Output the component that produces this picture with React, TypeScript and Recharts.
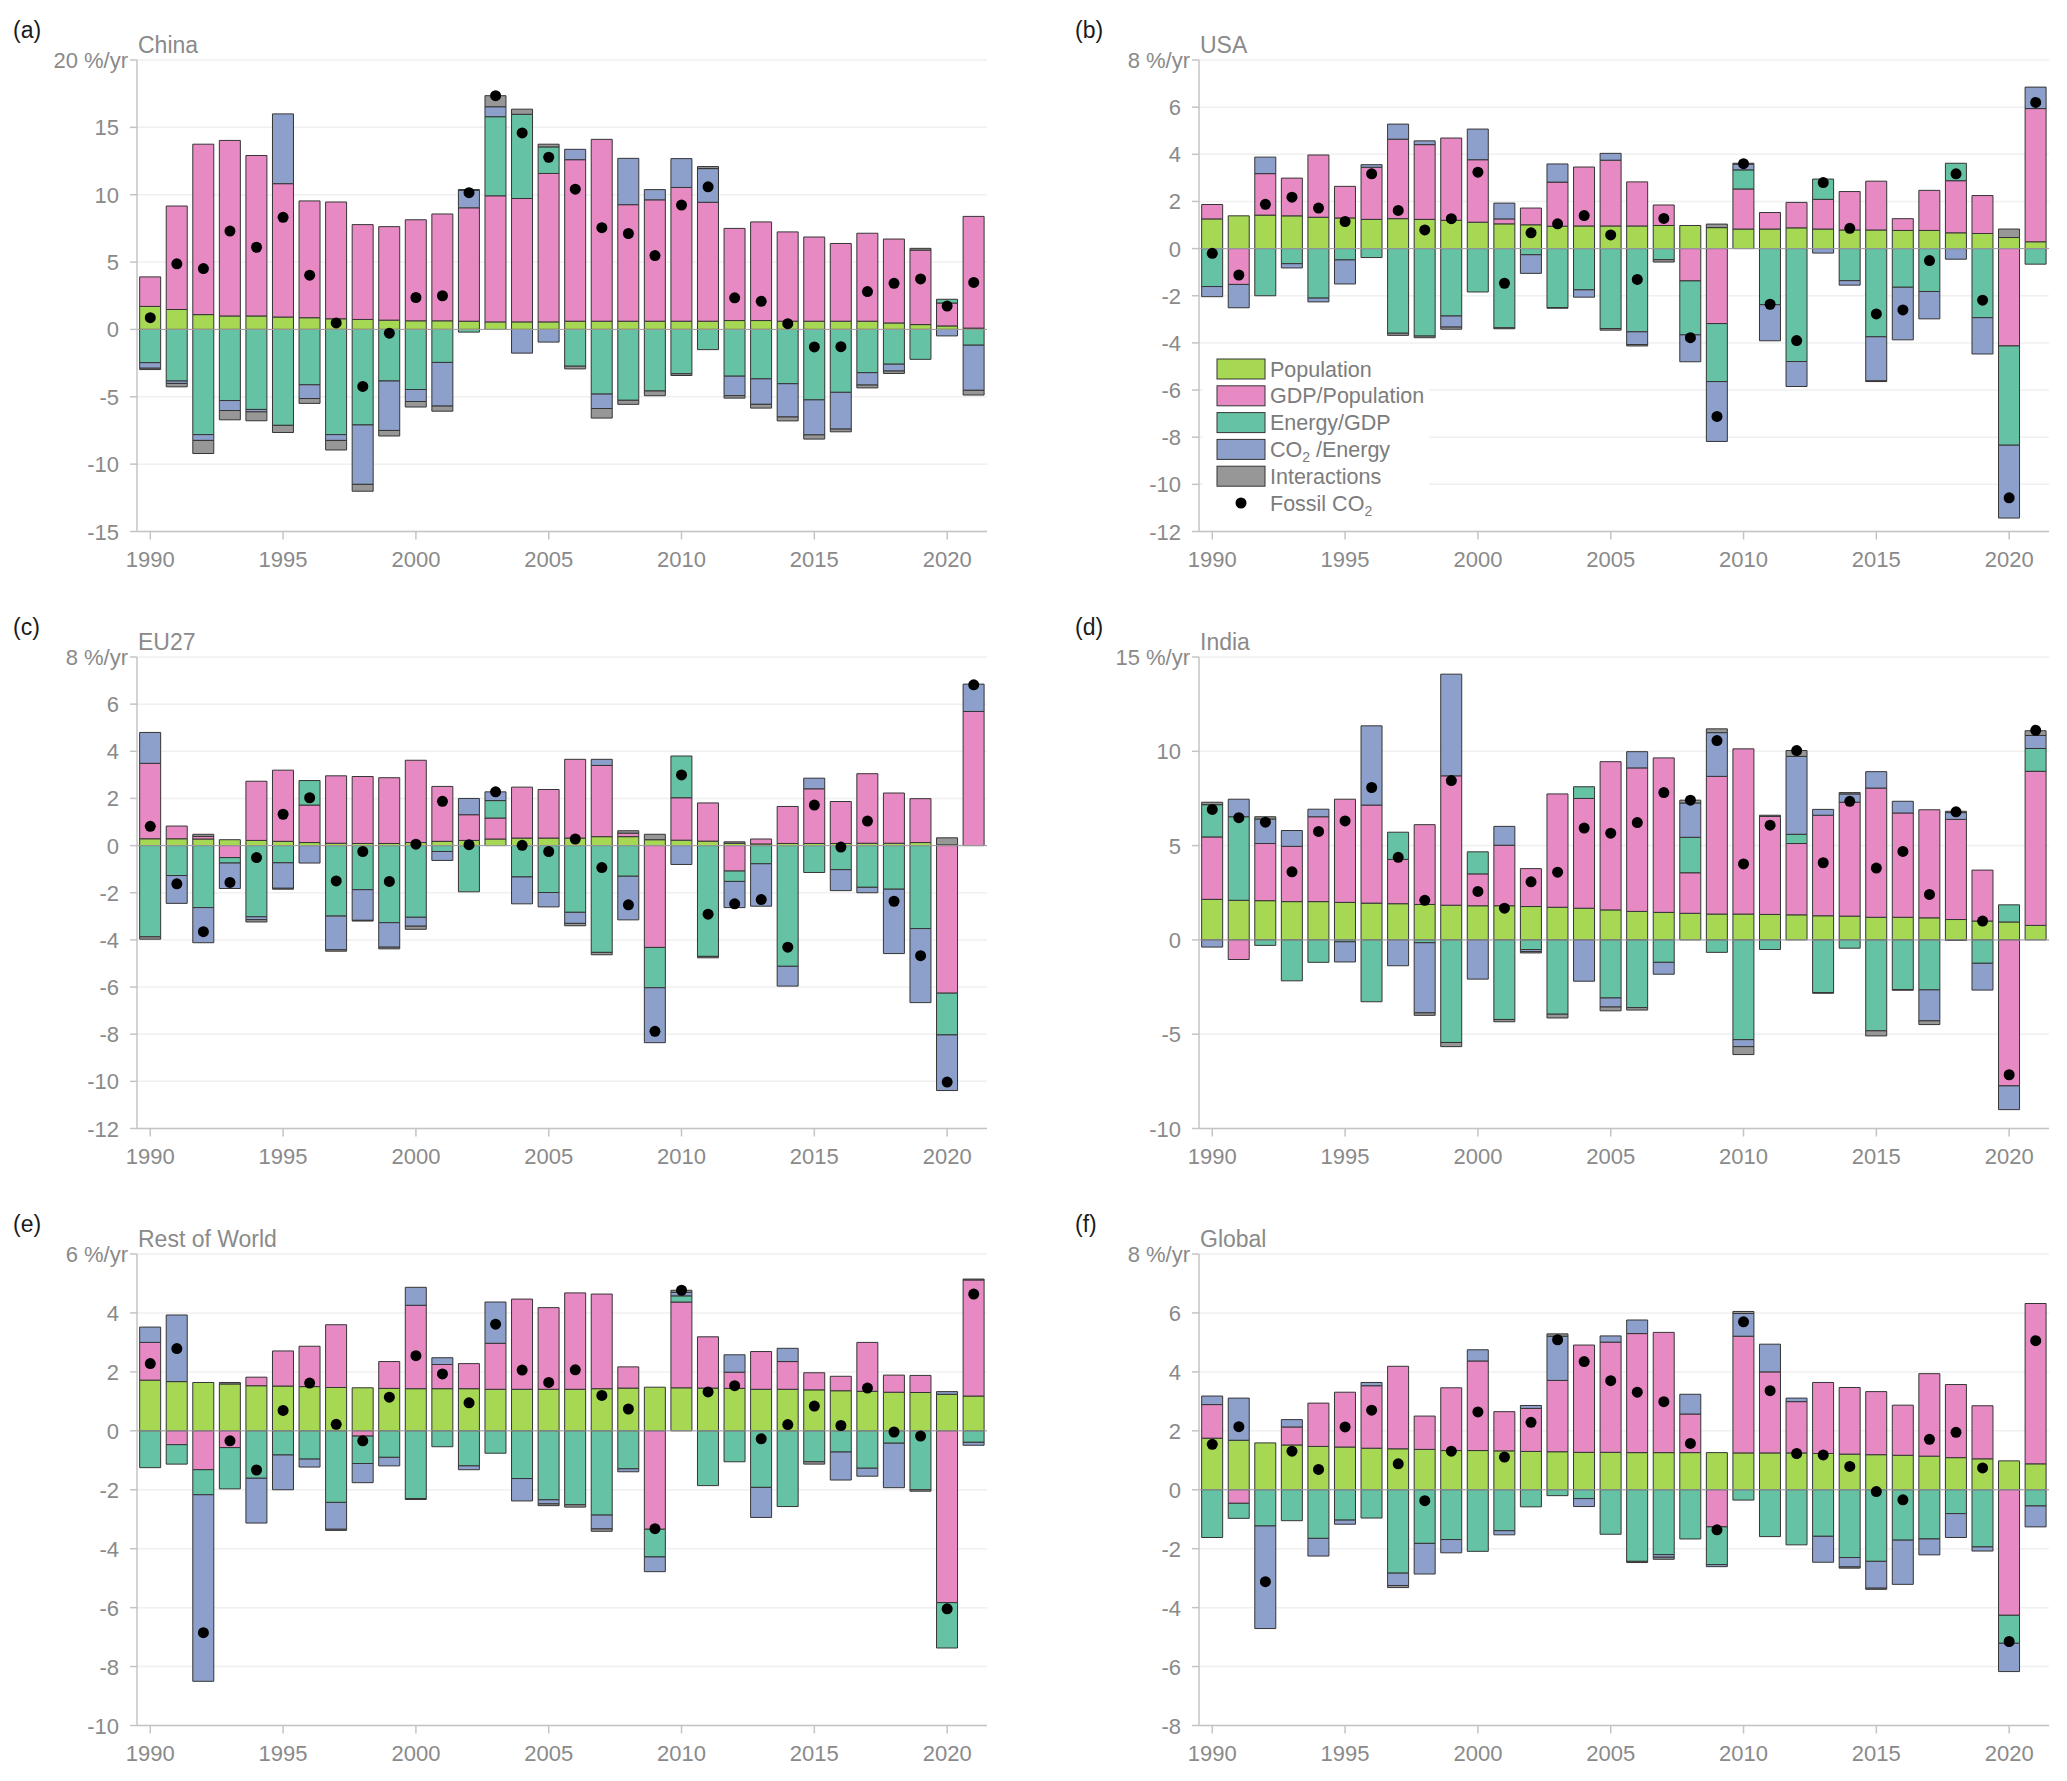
import { ComposedChart, Bar, Line, XAxis, YAxis, CartesianGrid, ReferenceLine } from 'recharts';

const years = [
  1990, 1991, 1992, 1993, 1994, 1995, 1996, 1997, 1998, 1999, 2000, 2001, 2002, 2003, 2004, 2005,
  2006, 2007, 2008, 2009, 2010, 2011, 2012, 2013, 2014, 2015, 2016, 2017, 2018, 2019, 2020, 2021,
];

const seriesKeys = ['pop', 'gdp', 'energy', 'co2', 'inter'];
const seriesNames = ['Population', 'GDP/Population', 'Energy/GDP', 'CO2 /Energy', 'Interactions'];
const seriesColors = ['#a6d854', '#e78ac3', '#66c2a5', '#8da0cb', '#979797'];

// China
const chinaPop = [1.71, 1.48, 1.1, 1.0, 1.0, 0.92, 0.87, 0.79, 0.74, 0.69, 0.64, 0.64, 0.61, 0.56, 0.56, 0.56, 0.61, 0.61, 0.61, 0.61, 0.61, 0.61, 0.66, 0.66, 0.61, 0.61, 0.61, 0.61, 0.48, 0.36, 0.26, 0.1];
const chinaGdp = [2.19, 7.68, 12.65, 13.03, 11.91, 9.9, 8.67, 8.67, 7.04, 6.94, 7.5, 7.93, 8.42, 9.36, 9.16, 11.02, 11.99, 13.5, 8.65, 9.01, 9.93, 8.83, 6.84, 7.32, 6.63, 6.25, 5.77, 6.53, 6.23, 5.53, 1.7, 8.29];
const chinaEnergy = [-2.47, -3.83, -7.81, -5.28, -5.94, -7.12, -4.11, -7.81, -7.09, -3.83, -4.46, -2.45, -0.2, 5.87, 6.25, 1.97, -2.73, -4.8, -5.26, -4.57, -3.29, -1.5, -3.47, -3.67, -4.03, -5.23, -4.67, -3.21, -2.58, -2.22, 0.28, -1.17];
const chinaCo2 = [-0.41, -0.18, -0.43, -0.74, -0.18, 5.18, -1.02, -0.43, -4.41, -3.67, -0.89, -3.24, 1.3, 0.74, -1.76, -0.94, 0.77, -1.07, 3.44, 0.76, 2.14, 2.5, -1.45, -1.89, -2.47, -2.6, -2.73, -0.92, -0.51, 0, -0.48, -3.35];
const chinaInter = [-0.1, -0.25, -0.97, -0.69, -0.66, -0.53, -0.36, -0.71, -0.51, -0.41, -0.41, -0.38, 0.05, 0.82, 0.38, 0.2, -0.2, -0.71, -0.3, -0.35, -0.13, 0.15, -0.18, -0.28, -0.29, -0.31, -0.2, -0.21, -0.18, 0.13, 0, -0.35];
const chinaFossil = [0.87, 4.87, 4.52, 7.3, 6.1, 8.32, 4.03, 0.48, -4.23, -0.28, 2.37, 2.5, 10.15, 17.35, 14.59, 12.78, 10.41, 7.55, 7.12, 5.48, 9.23, 10.59, 2.35, 2.09, 0.43, -1.3, -1.28, 2.81, 3.42, 3.75, 1.73, 3.49];

// USA
const usaPop = [1.26, 1.39, 1.42, 1.39, 1.33, 1.3, 1.24, 1.27, 1.24, 1.2, 1.12, 1.05, 1.01, 0.95, 0.96, 0.96, 0.96, 0.98, 0.98, 0.89, 0.83, 0.83, 0.88, 0.83, 0.79, 0.79, 0.77, 0.77, 0.67, 0.64, 0.47, 0.29];
const usaGdp = [0.61, -1.52, 1.76, 1.6, 2.64, 1.34, 2.21, 3.37, 3.17, 3.49, 2.65, 0.21, 0.71, 1.87, 2.5, 2.79, 1.87, 0.87, -1.37, -3.18, 1.7, 0.7, 1.08, 1.26, 1.63, 2.07, 0.5, 1.7, 2.21, 1.61, -4.13, 5.65];
const usaEnergy = [-1.61, 0, -2.0, -0.64, -2.1, -0.48, -0.38, -3.59, -3.71, -2.86, -1.84, -3.36, -0.26, -2.5, -1.75, -3.39, -3.53, -0.47, -2.29, -2.46, 0.81, -2.38, -4.79, 0.86, -1.36, -3.74, -1.64, -1.82, 0.74, -2.93, -4.21, -0.66];
const usaCo2 = [-0.43, -0.99, 0.7, -0.18, -0.16, -1.02, 0.11, 0.64, 0.16, -0.47, 1.3, 0.67, -0.79, 0.77, -0.31, 0.29, -0.54, 0, -1.14, -2.54, 0.24, -1.53, -1.06, -0.19, -0.19, -1.87, -2.23, -1.16, -0.45, -1.54, -3.09, 0.91];
const usaInter = [0, 0, 0, 0, 0, 0, 0, -0.09, -0.07, -0.09, 0, -0.04, 0, -0.03, 0, -0.07, -0.06, -0.1, 0, 0.15, 0.04, 0, 0, 0, 0, -0.03, 0, 0, 0, 0, 0.36, 0];
const usaFossil = [-0.2, -1.12, 1.88, 2.18, 1.72, 1.15, 3.17, 1.62, 0.79, 1.27, 3.24, -1.47, 0.67, 1.05, 1.4, 0.58, -1.31, 1.28, -3.78, -7.12, 3.6, -2.36, -3.9, 2.8, 0.86, -2.77, -2.6, -0.51, 3.17, -2.19, -10.57, 6.2];

// EU27
const euPop = [0.29, 0.29, 0.28, 0.25, 0.22, 0.18, 0.13, 0.1, 0.09, 0.09, 0.13, 0.18, 0.22, 0.28, 0.32, 0.32, 0.32, 0.38, 0.38, 0.25, 0.23, 0.19, 0.1, 0.07, 0.09, 0.09, 0.09, 0.1, 0.1, 0.13, 0.03, 0];
const euGdp = [3.2, 0.54, 0.11, -0.51, 2.51, 3.02, 1.59, 2.86, 2.84, 2.79, 3.49, 2.33, 1.09, 0.89, 2.16, 2.06, 3.34, 3.02, 0.15, -4.32, 1.8, 1.62, -1.08, 0.21, 1.57, 2.32, 1.78, 2.95, 2.13, 1.86, -6.26, 5.69];
const euEnergy = [-3.87, -1.27, -2.63, -0.23, -3.02, -0.73, 1.04, -2.99, -1.87, -3.27, -3.04, -0.25, -1.96, 0.74, -1.33, -1.99, -2.83, -4.53, -1.3, -1.71, 1.77, -4.7, -0.44, -0.77, -5.12, -1.14, -1.02, -1.77, -1.85, -3.52, -1.77, 0];
const euCo2 = [1.31, -1.18, -1.49, -1.08, -0.12, -1.08, -0.74, -1.43, -1.3, -1.04, -0.38, -0.38, 0.69, 0.37, -1.14, -0.61, -0.47, 0.26, -1.85, -2.33, -0.8, 0, -1.11, -1.8, -0.84, 0.45, -0.89, -0.23, -2.73, -3.14, -2.36, 1.16];
const euInter = [-0.1, 0, 0.09, 0, -0.1, -0.04, 0, -0.06, -0.03, -0.07, -0.13, 0, 0, 0, 0, 0, -0.1, -0.1, 0.1, 0.23, 0, -0.06, 0.06, 0, 0, 0, 0, 0, 0, 0, 0.3, 0];
const euFossil = [0.82, -1.62, -3.65, -1.56, -0.51, 1.33, 2.03, -1.5, -0.25, -1.52, 0.06, 1.88, 0.04, 2.28, 0.01, -0.25, 0.28, -0.93, -2.51, -7.88, 3.0, -2.91, -2.47, -2.29, -4.31, 1.72, -0.06, 1.04, -2.36, -4.67, -10.03, 6.82];

// India
const indiaPop = [2.15, 2.1, 2.08, 2.03, 2.03, 1.99, 1.95, 1.92, 1.88, 1.84, 1.81, 1.81, 1.77, 1.73, 1.68, 1.59, 1.51, 1.46, 1.41, 1.37, 1.37, 1.35, 1.33, 1.28, 1.26, 1.2, 1.2, 1.17, 1.08, 1.0, 0.95, 0.77];
const indiaGdp = [3.31, -1.04, 3.03, 2.93, 4.5, 5.47, 5.2, 2.35, 4.23, 6.86, 1.69, 3.21, 2.01, 6.01, 5.82, 7.86, 7.61, 8.19, 2.15, 7.3, 8.76, 5.2, 3.78, 5.33, 6.04, 6.85, 5.53, 5.73, 5.31, 2.7, -7.74, 8.17];
const indiaEnergy = [1.71, 4.43, -0.29, -2.17, -1.19, -0.1, -3.28, 1.44, -0.15, -5.44, 1.17, -4.22, -0.51, -3.94, 0.62, -3.08, -3.59, -1.19, 1.88, -0.66, -5.29, -0.51, 0.49, -2.79, -0.44, -4.82, -2.63, -2.65, -0.03, -1.24, 0.91, 1.21];
const indiaCo2 = [-0.38, 0.93, 1.3, 0.84, 0.4, -1.07, 4.2, -1.37, -3.72, 5.39, -2.08, 1.0, -0.11, 0, -2.19, -0.48, 0.86, -0.63, 1.82, 2.32, -0.37, 0, 4.13, 0.31, 0.44, 0.87, 0.62, -1.64, 0.36, -1.42, -1.26, 0.69];
const indiaInter = [0.13, 0, 0.12, 0, 0, 0, 0, 0, -0.13, -0.22, 0, -0.12, -0.07, -0.2, 0, -0.2, -0.13, 0, 0.15, 0.2, -0.42, 0.06, 0.31, -0.04, 0.07, -0.27, -0.04, -0.2, 0.07, 0, 0, 0.25];
const indiaFossil = [6.92, 6.48, 6.24, 3.61, 5.75, 6.31, 8.08, 4.38, 2.1, 8.45, 2.57, 1.68, 3.08, 3.59, 5.93, 5.66, 6.22, 7.81, 7.41, 10.57, 4.03, 6.08, 10.04, 4.09, 7.35, 3.81, 4.69, 2.41, 6.79, 1.0, -7.15, 11.11];

// Rest of World
const rowPop = [1.72, 1.67, 1.64, 1.59, 1.53, 1.52, 1.5, 1.47, 1.46, 1.44, 1.43, 1.43, 1.43, 1.41, 1.41, 1.41, 1.41, 1.43, 1.45, 1.48, 1.46, 1.45, 1.44, 1.41, 1.41, 1.39, 1.36, 1.34, 1.31, 1.3, 1.24, 1.18];
const rowGdp = [1.28, -0.47, -1.32, -0.57, 0.29, 1.19, 1.37, 2.13, -0.18, 0.91, 2.83, 0.82, 0.85, 1.56, 3.06, 2.77, 3.27, 3.21, 0.72, -3.34, 2.91, 1.74, 0.55, 1.28, 0.94, 0.58, 0.49, 1.66, 0.58, 0.58, -5.83, 3.94];
const rowEnergy = [-1.25, -0.66, -0.85, -1.4, -1.61, -0.82, -0.96, -2.43, -0.93, -0.9, -2.3, -0.54, -1.19, -0.76, -1.62, -2.34, -2.51, -2.86, -1.29, -0.94, 0.21, -1.86, -1.05, -1.92, -2.57, -1.05, -0.72, -1.27, -0.42, -2.0, -1.54, -0.39];
const rowCo2 = [0.52, 2.26, -6.33, 0, -1.52, -1.18, -0.27, -0.91, -0.65, -0.29, 0.61, 0.23, -0.13, 1.4, -0.76, -0.14, 0, -0.47, -0.1, -0.5, 0.12, 0, 0.59, -1.02, 0.45, 0, -0.95, -0.27, -1.51, 0, 0.09, -0.1];
const rowInter = [0, 0, 0, 0.05, 0, 0, 0, -0.04, 0, 0, -0.03, 0, 0, 0, 0, -0.06, -0.08, -0.08, 0, 0, 0.07, 0, 0, 0, 0, -0.08, 0, 0, 0, -0.05, 0, 0.03];
const rowFossil = [2.28, 2.79, -6.85, -0.34, -1.33, 0.69, 1.62, 0.22, -0.34, 1.14, 2.55, 1.93, 0.95, 3.62, 2.06, 1.64, 2.07, 1.2, 0.74, -3.32, 4.77, 1.32, 1.53, -0.27, 0.21, 0.84, 0.18, 1.45, -0.04, -0.18, -6.04, 4.64];

// Global
const globalPop = [1.75, 1.68, 1.59, 1.52, 1.47, 1.45, 1.41, 1.39, 1.37, 1.33, 1.33, 1.32, 1.3, 1.29, 1.27, 1.27, 1.26, 1.26, 1.26, 1.26, 1.25, 1.25, 1.25, 1.23, 1.21, 1.19, 1.17, 1.14, 1.09, 1.05, 0.98, 0.88];
const globalGdp = [1.14, -0.46, 0, 0.61, 1.47, 1.86, 2.12, 2.8, 1.13, 2.13, 3.04, 1.33, 1.46, 2.42, 3.64, 3.74, 4.04, 4.08, 1.31, -1.26, 3.96, 2.75, 1.74, 2.41, 2.26, 2.14, 1.7, 2.8, 2.48, 1.8, -4.26, 5.44];
const globalEnergy = [-1.62, -0.51, -1.23, -1.05, -1.65, -1.03, -0.96, -2.83, -1.82, -1.69, -2.09, -1.39, -0.58, -0.2, -0.3, -1.51, -2.43, -2.2, -1.67, -1.28, -0.35, -1.59, -1.87, -1.58, -2.3, -2.43, -1.71, -1.67, -0.81, -1.94, -0.95, -0.55];
const globalCo2 = [0.29, 1.43, -3.48, 0.25, -0.6, -0.14, 0.11, -0.42, -1.04, -0.45, 0.38, -0.14, 0.1, 1.5, -0.27, 0.21, 0.46, -0.09, 0.67, -0.07, 0.77, 0.94, 0.12, -0.88, -0.32, -0.91, -1.5, -0.54, -0.81, -0.14, -0.96, -0.71];
const globalInter = [0, 0, 0, 0, 0, 0, 0, -0.07, 0, 0, 0, 0, 0, 0.08, 0, 0, -0.04, -0.07, 0, 0, 0.07, 0, 0, 0, -0.04, -0.04, 0, 0, 0, 0, 0, 0];
const globalFossil = [1.54, 2.14, -3.12, 1.31, 0.69, 2.13, 2.7, 0.88, -0.37, 1.31, 2.64, 1.11, 2.29, 5.09, 4.35, 3.7, 3.31, 2.99, 1.57, -1.36, 5.7, 3.36, 1.23, 1.18, 0.79, -0.06, -0.34, 1.71, 1.95, 0.74, -5.15, 5.06];

const chinaTicks = [-15, -10, -5, 0, 5, 10, 15, 20];
const usaTicks = [-12, -10, -8, -6, -4, -2, 0, 2, 4, 6, 8];
const euTicks = [-12, -10, -8, -6, -4, -2, 0, 2, 4, 6, 8];
const indiaTicks = [-10, -5, 0, 5, 10, 15];
const rowTicks = [-10, -8, -6, -4, -2, 0, 2, 4, 6];
const globalTicks = [-8, -6, -4, -2, 0, 2, 4, 6, 8];

const panels = [
  { label: '(a)', title: 'China', ticks: chinaTicks, series: [chinaPop, chinaGdp, chinaEnergy, chinaCo2, chinaInter], fossil: chinaFossil },
  { label: '(b)', title: 'USA', ticks: usaTicks, series: [usaPop, usaGdp, usaEnergy, usaCo2, usaInter], fossil: usaFossil },
  { label: '(c)', title: 'EU27', ticks: euTicks, series: [euPop, euGdp, euEnergy, euCo2, euInter], fossil: euFossil },
  { label: '(d)', title: 'India', ticks: indiaTicks, series: [indiaPop, indiaGdp, indiaEnergy, indiaCo2, indiaInter], fossil: indiaFossil },
  { label: '(e)', title: 'Rest of World', ticks: rowTicks, series: [rowPop, rowGdp, rowEnergy, rowCo2, rowInter], fossil: rowFossil },
  { label: '(f)', title: 'Global', ticks: globalTicks, series: [globalPop, globalGdp, globalEnergy, globalCo2, globalInter], fossil: globalFossil },
];

const FONT = '"Liberation Sans", Arial, Helvetica, sans-serif';
const AXIS_GREY = '#c4c4c4';
const TEXT_GREY = '#8a8a8a';

// layout (page pixels)
const CHART_W = 1000;
const Y_AXIS_W = 137;
const TOP_M = 60;
const PLOT_H = 471.5;
const X_AXIS_H = 45;
const CHART_H = TOP_M + PLOT_H + X_AXIS_H;
const colLeft = [0, 1062];
const rowTop = [0, 596.5, 1194];

function YearTick(props: any) {
  const { x, y, payload } = props;
  if (payload.value % 5 !== 0) return null;
  return (
    <g>
      <line x1={x} x2={x} y1={y} y2={y + 8} stroke={AXIS_GREY} strokeWidth={1.5} />
      <text x={x} y={y + 35} textAnchor="middle" fontSize={22} fontFamily={FONT} fill={TEXT_GREY}>
        {payload.value}
      </text>
    </g>
  );
}

function ValueTick(props: any) {
  const { x, y, payload, topValue } = props;
  const isTop = payload.value === topValue;
  return (
    <g>
      <line x1={x - 7} x2={x} y1={y} y2={y} stroke={AXIS_GREY} strokeWidth={1.5} />
      <text x={isTop ? x - 9 : x - 18} y={y + 8} textAnchor="end" fontSize={22} fontFamily={FONT} fill={TEXT_GREY}>
        {isTop ? `${payload.value} %/yr` : payload.value}
      </text>
    </g>
  );
}

function Panel({ panel, left, top }: any) {
  const data = years.map((year, i) => {
    const row: any = { year, fossil: panel.fossil[i] };
    seriesKeys.forEach((k, s) => {
      row[k] = panel.series[s][i];
    });
    return row;
  });
  const lo = panel.ticks[0];
  const hi = panel.ticks[panel.ticks.length - 1];

  return (
    <div style={{ position: 'absolute', left, top, width: CHART_W, height: CHART_H }}>
      <ComposedChart
        width={CHART_W}
        height={CHART_H}
        data={data}
        stackOffset="sign"
        barCategoryGap="10%"
        margin={{ top: TOP_M, right: 13, left: 0, bottom: 0 }}
      >
        <CartesianGrid vertical={false} stroke="#f0f0f0" strokeWidth={1.5} />
        <XAxis
          dataKey="year"
          interval={0}
          height={X_AXIS_H}
          tickLine={false}
          tickSize={0}
          tickMargin={0}
          axisLine={{ stroke: AXIS_GREY, strokeWidth: 1.5 }}
          tick={(p: any) => <YearTick {...p} />}
        />
        <YAxis
          type="number"
          width={Y_AXIS_W}
          domain={[lo, hi]}
          ticks={panel.ticks}
          interval={0}
          allowDataOverflow
          tickLine={false}
          tickSize={0}
          tickMargin={0}
          axisLine={{ stroke: AXIS_GREY, strokeWidth: 1.5 }}
          tick={(p: any) => <ValueTick {...p} topValue={hi} />}
        />
        {seriesKeys.map((k, s) => (
          <Bar
            key={k}
            dataKey={k}
            name={seriesNames[s]}
            stackId="decomp"
            fill={seriesColors[s]}
            stroke="#353535"
            strokeWidth={1}
            isAnimationActive={false}
          />
        ))}
        <ReferenceLine y={0} stroke="#9e9e9e" strokeWidth={1} />
        <Line
          dataKey="fossil"
          name="Fossil CO2"
          stroke="none"
          dot={{ r: 5.5, fill: '#000', stroke: 'none' }}
          activeDot={false}
          isAnimationActive={false}
        />
      </ComposedChart>
    </div>
  );
}

function Legend() {
  const x0 = 1217;
  const rows = [369, 395.8, 422.6, 449.4, 476.2];
  return (
    <g>
      <rect x={1203} y={353} width={226} height={162} fill="#ffffff" />
      {seriesNames.map((name, i) => (
        <g key={name}>
          <rect x={x0} y={rows[i] - 10} width={48} height={20} fill={seriesColors[i]} stroke="#353535" strokeWidth={1} />
          <text x={x0 + 53} y={rows[i] + 7.5} fontSize={21.5} fontFamily={FONT} fill="#7c7c7c">
            {i === 3 ? (
              <>
                CO<tspan fontSize={14} dy={5}>2</tspan>
                <tspan dy={-5}> /Energy</tspan>
              </>
            ) : (
              name
            )}
          </text>
        </g>
      ))}
      <circle cx={x0 + 24} cy={503} r={5.5} fill="#000" />
      <text x={x0 + 53} y={510.5} fontSize={21.5} fontFamily={FONT} fill="#7c7c7c">
        Fossil CO<tspan fontSize={14} dy={5}>2</tspan>
      </text>
    </g>
  );
}

export default function App() {
  return (
    <div style={{ position: 'absolute', left: 0, top: 0, width: 2067, height: 1781, background: '#ffffff', overflow: 'hidden' }}>
      {panels.map((p, i) => (
        <Panel key={p.title} panel={p} left={colLeft[i % 2]} top={rowTop[Math.floor(i / 2)]} />
      ))}
      <svg width={2067} height={1781} style={{ position: 'absolute', left: 0, top: 0, pointerEvents: 'none' }}>
        {panels.map((p, i) => {
          const px = colLeft[i % 2] + Y_AXIS_W;
          const py = rowTop[Math.floor(i / 2)] + TOP_M;
          return (
            <g key={p.title}>
              <text x={px - 124} y={py - 22} fontSize={23} fontFamily={FONT} fill="#1a1a1a">
                {p.label}
              </text>
              <text x={px + 1} y={py - 7} fontSize={23} fontFamily={FONT} fill={TEXT_GREY}>
                {p.title}
              </text>
            </g>
          );
        })}
        <Legend />
      </svg>
    </div>
  );
}
